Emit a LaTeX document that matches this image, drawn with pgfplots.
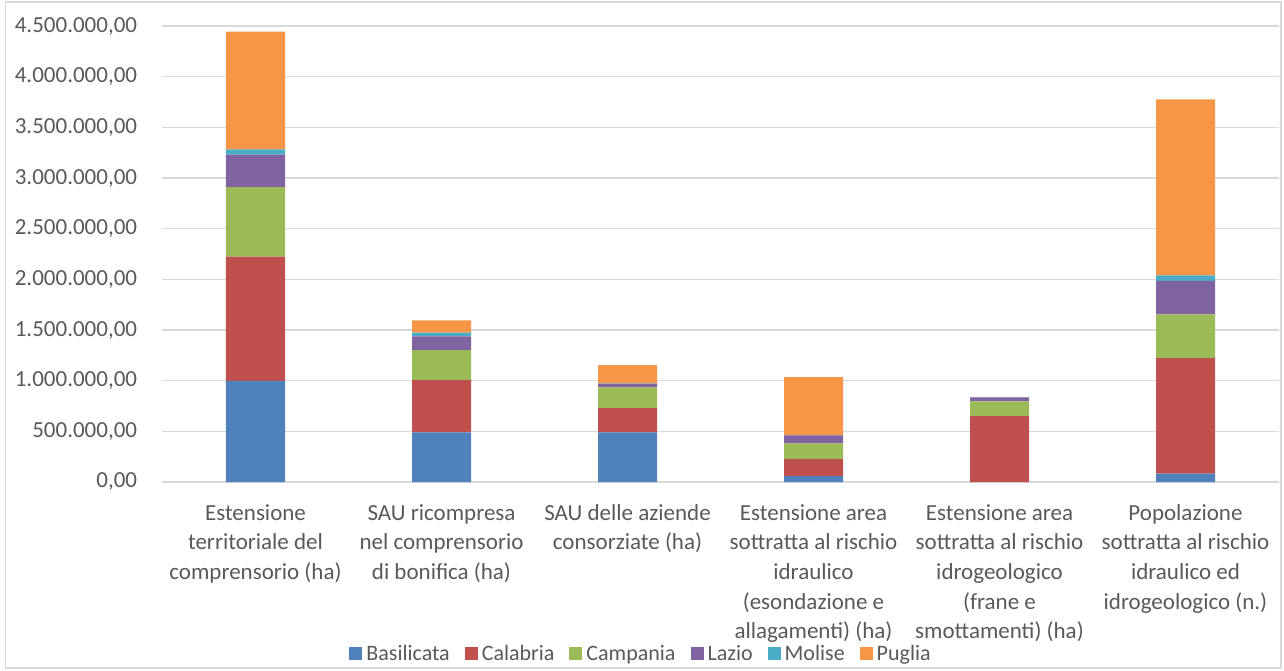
\documentclass[border=0pt]{standalone}
\usepackage{pgfplots}
\pgfplotsset{compat=1.18}
\usepackage{fontspec}
\setmainfont{Carlito}
\definecolor{cBas}{HTML}{4F81BD}
\definecolor{cCal}{HTML}{C0504D}
\definecolor{cCam}{HTML}{9BBB59}
\definecolor{cLaz}{HTML}{8064A2}
\definecolor{cMol}{HTML}{4BACC6}
\definecolor{cPug}{HTML}{F79646}
\definecolor{tgray}{HTML}{595959}
\definecolor{ggray}{HTML}{D9D9D9}
\begin{document}
\begin{tikzpicture}
\useasboundingbox (0,0) rectangle (642pt,335pt);
\draw[ggray, line width=0.6pt] (2.75pt,1pt) rectangle (640.5pt,334pt);
\begin{axis}[
  at={(81.25pt,94pt)}, anchor=south west,
  scale only axis, width=558pt, height=228pt,
  xmin=-0.5, xmax=5.5, ymin=0, ymax=4500000,
  ybar stacked, bar width=29.5pt,
  axis line style={draw=none},
  major tick length=0pt, tick style={draw=none},
  ymajorgrids, major grid style={ggray, line width=0.6pt},
  scaled y ticks=false,
  ytick={0,500000,1000000,1500000,2000000,2500000,3000000,3500000,4000000,4500000},
  yticklabels={{0,00},{500.000,00},{1.000.000,00},{1.500.000,00},{2.000.000,00},{2.500.000,00},{3.000.000,00},{3.500.000,00},{4.000.000,00},{4.500.000,00}},
  yticklabel style={inner sep=0pt, anchor=east, xshift=-12.5pt, font=\fontsize{11.5}{15.5}\selectfont, text=tgray},
  xtick={0,1,2,3,4,5},
  xticklabels={
    {Estensione\\territoriale del\\comprensorio (ha)},
    {SAU ricompresa\\nel comprensorio\\di bonifica (ha)},
    {SAU delle aziende\\consorziate (ha)},
    {Estensione area\\sottratta al rischio\\idraulico\\(esondazione e\\allagamenti) (ha)},
    {Estensione area\\sottratta al rischio\\idrogeologico\\(frane e\\smottamenti) (ha)},
    {Popolazione\\sottratta al rischio\\idraulico ed\\idrogeologico (n.)}},
  xticklabel style={align=center, anchor=north, inner sep=0pt, yshift=-11pt, font=\fontsize{11.5}{14.8}\selectfont, text=tgray},
  legend columns=6,
  legend style={at={(0.4297,-0.378)}, anchor=center, draw=none, fill=none,
    font=\fontsize{11}{13}\selectfont, text=tgray,
    /tikz/every even column/.append style={column sep=5.5pt}},
  legend image code/.code={\fill[#1] (0pt,-3pt) rectangle (6.5pt,3.5pt);},
  every axis plot/.append style={draw=none},
]
\addplot[fill=cBas] coordinates {(0,997000) (1,490000) (2,490000) (3,59000) (4,0) (5,82000)};
\addplot[fill=cCal] coordinates {(0,1227000) (1,516000) (2,240000) (3,168000) (4,651000) (5,1141000)};
\addplot[fill=cCam] coordinates {(0,687000) (1,296000) (2,204000) (3,155000) (4,145000) (5,431000)};
\addplot[fill=cLaz] coordinates {(0,319000) (1,135000) (2,36000) (3,79000) (4,39000) (5,332000)};
\addplot[fill=cMol] coordinates {(0,53000) (1,36000) (2,3000) (3,2000) (4,2000) (5,53000)};
\addplot[fill=cPug] coordinates {(0,1161000) (1,122000) (2,181000) (3,572000) (4,0) (5,1737000)};
\legend{Basilicata,Calabria,Campania,Lazio,Molise,Puglia}
\end{axis}
\end{tikzpicture}
\end{document}
